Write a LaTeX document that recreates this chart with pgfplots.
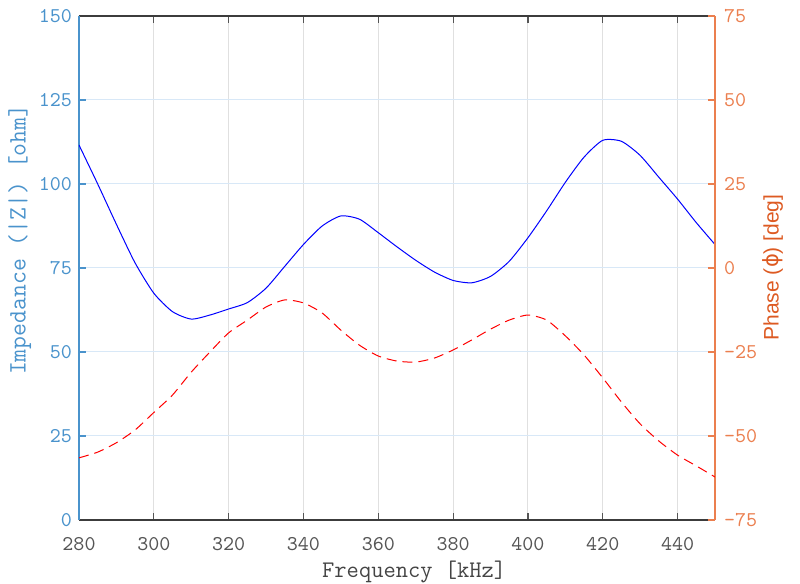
\documentclass[border=0pt]{standalone}
\usepackage{fontspec}
\newfontfamily\sansf{Liberation Sans}
\newfontfamily\dejavu{DejaVu Sans}
\usepackage{pgfplots}
\pgfplotsset{compat=1.18}
\definecolor{lblue}{HTML}{4A93CC}
\definecolor{ltick}{HTML}{EB7F4F}
\definecolor{rlab}{HTML}{DD5A22}
\definecolor{xgray}{HTML}{555555}
\definecolor{vgrid}{HTML}{E0E0E0}
\definecolor{hgrid}{HTML}{D8E8F7}

\begin{document}
\begin{tikzpicture}[x=1pt,y=1pt]
\useasboundingbox (0,0) rectangle (400,292);
\begin{axis}[
  at={(39.5pt,32pt)}, anchor=south west,
  scale only axis, width=318pt, height=252pt,
  xmin=280, xmax=450, ymin=0, ymax=150,
  xtick={280,300,...,440}, ytick={0,25,...,150},
  /pgf/number format/assume math mode=true,
  tick label style={font=\ttfamily\fontsize{10.5}{12}\selectfont},
  xticklabel style={color=xgray, yshift=-5pt},
  yticklabel style={color=lblue},
  xtick pos=both, ytick pos=left,
  major tick length=3.5pt,
  x tick style={color=xgray, line width=0.6pt},
  y tick style={color=lblue, line width=0.6pt},
  separate axis lines,
  x axis line style={draw=xgray!70!black, line width=0.6pt},
  y axis line style={draw=lblue, line width=0.9pt},
  grid=major,
  x grid style={color=vgrid, line width=0.5pt},
  y grid style={color=hgrid, line width=0.5pt},
  xlabel={Frequency [kHz]},
  xlabel style={at={(axis description cs:0.527,-0.103)}, anchor=center, color=xgray!80!black, font=\ttfamily\fontsize{11.9}{13}\selectfont},
  ylabel={Impedance (|Z|) [ohm]},
  ylabel style={at={(axis description cs:-0.093,0.556)}, anchor=center, rotate=0, color=lblue, font=\ttfamily\fontsize{12.5}{13}\selectfont},
]
% impedance magnitude
\addplot[color=blue, line width=0.5pt, smooth, tension=0.4] coordinates {
  (280,111.6) (285,100) (290,88) (295,76.5) (300,67.5) (305,62) (310,59.8) (315,61)
  (320,62.8) (325,64.7) (330,69) (335,75.5) (340,82) (345,87.5) (350,90.5) (355,89.5)
  (360,85.5) (365,81.3) (370,77.3) (375,73.8) (380,71.3) (385,70.6) (390,72.5) (395,77)
  (400,84) (405,92) (410,100.5) (415,108) (420,113) (425,112.7) (430,108.5) (435,102)
  (440,95.5) (445,88.5) (450,82)
};
\end{axis}
\begin{axis}[
  at={(39.5pt,32pt)}, anchor=south west,
  scale only axis, width=318pt, height=252pt,
  xmin=280, xmax=450, ymin=-75, ymax=75,
  axis x line=none, axis y line*=right,
  ytick={-75,-50,...,75}, ytick pos=right,
  /pgf/number format/assume math mode=true,
  tick label style={font=\ttfamily\fontsize{10.5}{12}\selectfont},
  yticklabel style={color=ltick, xshift=1pt},
  major tick length=3.5pt,
  y tick style={color=ltick, line width=0.6pt},
  y axis line style={draw=ltick, line width=0.9pt, -},
  ylabel={\sansf Phase ({\dejavu ϕ}) [deg]},
  ylabel style={at={(axis description cs:1.091,0.501)}, anchor=center, rotate=0, color=rlab, font=\fontsize{10.5}{12}\selectfont},
]
% phase
\addplot[color=red, line width=0.5pt, smooth, tension=0.4, dash pattern=on 5pt off 3pt] coordinates {
  (280,-56.5) (285,-54.8) (290,-52) (295,-48.2) (300,-43) (305,-37.8) (310,-31) (315,-25)
  (320,-19.3) (325,-15.5) (330,-11.6) (335,-9.5) (340,-10.4) (345,-13.4) (350,-18.5) (355,-23)
  (360,-26.2) (365,-27.7) (370,-28) (375,-26.8) (380,-24.4) (385,-21.4) (390,-18.2) (395,-15.5)
  (400,-14) (405,-15.5) (410,-20.2) (415,-25.9) (420,-32.7) (425,-39.9) (430,-46.4) (435,-51.5)
  (440,-55.7) (445,-58.9) (450,-62.2)
};
\end{axis}
\end{tikzpicture}
\end{document}
